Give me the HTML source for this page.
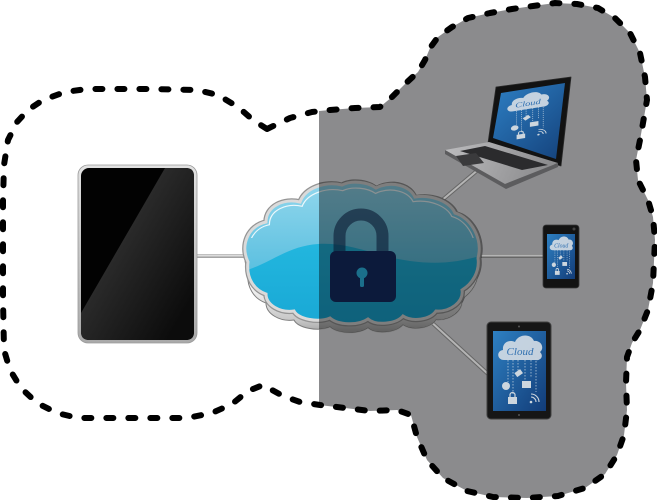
<!DOCTYPE html>
<html><head><meta charset="utf-8">
<style>html,body{margin:0;padding:0;background:#fff;}svg{display:block}</style>
</head>
<body>
<svg width="657" height="500" viewBox="0 0 657 500" xmlns="http://www.w3.org/2000/svg">
<defs>
 <linearGradient id="cloudTop" x1="0" y1="185" x2="0" y2="270" gradientUnits="userSpaceOnUse">
  <stop offset="0" stop-color="#90d6ec"/><stop offset="1" stop-color="#5cc0e0"/>
 </linearGradient>
 <linearGradient id="cloudBot" x1="0" y1="245" x2="0" y2="325" gradientUnits="userSpaceOnUse">
  <stop offset="0" stop-color="#22b6de"/><stop offset="1" stop-color="#19a8d5"/>
 </linearGradient>
 <linearGradient id="extr" x1="0" y1="280" x2="0" y2="333" gradientUnits="userSpaceOnUse">
  <stop offset="0" stop-color="#f2f2f2"/><stop offset="0.6" stop-color="#c6c6c6"/><stop offset="1" stop-color="#8a8a8a"/>
 </linearGradient>
 <linearGradient id="frame" x1="0" y1="165" x2="0" y2="343" gradientUnits="userSpaceOnUse">
  <stop offset="0" stop-color="#e2e2e2"/><stop offset="1" stop-color="#a9a9a9"/>
 </linearGradient>
 <linearGradient id="glare" x1="123" y1="240" x2="200" y2="285" gradientUnits="userSpaceOnUse">
  <stop offset="0" stop-color="#2a2a2a"/><stop offset="1" stop-color="#0c0c0c"/>
 </linearGradient>
 <linearGradient id="scr" x1="0" y1="0" x2="1" y2="1">
  <stop offset="0" stop-color="#2e80c2"/><stop offset="1" stop-color="#123c78"/>
 </linearGradient>
 <linearGradient id="lapScr" x1="495" y1="90" x2="560" y2="160" gradientUnits="userSpaceOnUse">
  <stop offset="0" stop-color="#2c7cc0"/><stop offset="1" stop-color="#15437d"/>
 </linearGradient>
 <linearGradient id="lapBase" x1="445" y1="142" x2="540" y2="185" gradientUnits="userSpaceOnUse">
  <stop offset="0" stop-color="#bdbdbf"/><stop offset="1" stop-color="#8c8c8e"/>
 </linearGradient>
 <clipPath id="cloudBody">
  <path d="M248,262 C240,245 248,226 266,222 C266,206 284,198 300,202 C305,188 325,181 342,185 C352,180 368,182 376,188 C392,180 410,186 415,197 C432,194 450,202 455,213 C472,218 483,240 478,258 C480,272 472,284 462,290 C464,302 450,312 436,311 C430,320 412,322 403,316 C396,324 376,326 368,319 C358,326 338,325 330,318 C318,323 298,319 294,311 C280,313 266,305 266,294 C254,290 246,278 248,262 Z"/>
 </clipPath>
 <clipPath id="cloudAll">
  <path d="M248,262 C240,245 248,226 266,222 C266,206 284,198 300,202 C305,188 325,181 342,185 C352,180 368,182 376,188 C392,180 410,186 415,197 C432,194 450,202 455,213 C472,218 483,240 478,258 C480,272 472,284 462,290 C464,302 450,312 436,311 C430,320 412,322 403,316 C396,324 376,326 368,319 C358,326 338,325 330,318 C318,323 298,319 294,311 C280,313 266,305 266,294 C254,290 246,278 248,262 Z" transform="translate(0,9)" stroke="#000" stroke-width="6"/>
  <path d="M248,262 C240,245 248,226 266,222 C266,206 284,198 300,202 C305,188 325,181 342,185 C352,180 368,182 376,188 C392,180 410,186 415,197 C432,194 450,202 455,213 C472,218 483,240 478,258 C480,272 472,284 462,290 C464,302 450,312 436,311 C430,320 412,322 403,316 C396,324 376,326 368,319 C358,326 338,325 330,318 C318,323 298,319 294,311 C280,313 266,305 266,294 C254,290 246,278 248,262 Z" transform="translate(362,252) scale(1.03,1.04) translate(-362,-252)"/>
 </clipPath>
 <clipPath id="topHalf"><rect x="230" y="170" width="260" height="68"/></clipPath>
</defs>

<!-- gray region -->
<polygon fill="#8b8b8d" points="319,111 330,110 355,108 380,107 392,97 405,84 418,72 425,60 430,48 438,37 452,27 468,18 490,13 512,9 533,6 555,3 577,4 598,8 615,18 630,33 640,53 645,77 647,100 643,123 640,140 636,160 638,180 648,200 653,217 655,240 653,283 648,310 640,330 632,343 627,357 626,383 627,410 624,435 617,455 605,474 585,488 558,496 527,498 493,497 467,491 443,478 427,460 417,437 411,415 397,410 370,411 345,408 319,405"/>

<!-- left connector -->
<line x1="196" y1="256" x2="250" y2="256" stroke="#a4a4a4" stroke-width="4"/>
<line x1="196" y1="255.5" x2="250" y2="255.5" stroke="#dcdcdc" stroke-width="2"/>

<!-- left black tablet -->
<rect x="78" y="165" width="119" height="178" rx="10" fill="url(#frame)" stroke="#9a9a9a" stroke-width="0.8"/>
<rect x="81" y="168" width="113" height="172" rx="8" fill="#020202"/>
<path d="M165,168 L186,168 Q194,168 194,176 L194,332 Q194,340 186,340 L89,340 Q81,340 81,332 L81,313 Z" fill="url(#glare)"/>

<!-- connectors in gray area -->
<g stroke-linecap="butt">
 <line x1="434" y1="207" x2="479" y2="169" stroke="#666" stroke-width="4"/>
 <line x1="434" y1="207" x2="479" y2="169" stroke="#b4b4b4" stroke-width="2"/>
 <line x1="474" y1="256" x2="544" y2="256" stroke="#666" stroke-width="4"/>
 <line x1="474" y1="255.5" x2="544" y2="255.5" stroke="#b4b4b4" stroke-width="2"/>
 <line x1="428" y1="319" x2="488" y2="374" stroke="#666" stroke-width="4"/>
 <line x1="428" y1="319" x2="488" y2="374" stroke="#b4b4b4" stroke-width="2"/>
</g>

<!-- cloud -->
<path d="M248,262 C240,245 248,226 266,222 C266,206 284,198 300,202 C305,188 325,181 342,185 C352,180 368,182 376,188 C392,180 410,186 415,197 C432,194 450,202 455,213 C472,218 483,240 478,258 C480,272 472,284 462,290 C464,302 450,312 436,311 C430,320 412,322 403,316 C396,324 376,326 368,319 C358,326 338,325 330,318 C318,323 298,319 294,311 C280,313 266,305 266,294 C254,290 246,278 248,262 Z" transform="translate(0,9)" fill="url(#extr)" stroke="#7e7e7e" stroke-width="1"/>
<path d="M248,262 C240,245 248,226 266,222 C266,206 284,198 300,202 C305,188 325,181 342,185 C352,180 368,182 376,188 C392,180 410,186 415,197 C432,194 450,202 455,213 C472,218 483,240 478,258 C480,272 472,284 462,290 C464,302 450,312 436,311 C430,320 412,322 403,316 C396,324 376,326 368,319 C358,326 338,325 330,318 C318,323 298,319 294,311 C280,313 266,305 266,294 C254,290 246,278 248,262 Z" fill="none" stroke="#949494" stroke-width="5.5"/>
<path d="M248,262 C240,245 248,226 266,222 C266,206 284,198 300,202 C305,188 325,181 342,185 C352,180 368,182 376,188 C392,180 410,186 415,197 C432,194 450,202 455,213 C472,218 483,240 478,258 C480,272 472,284 462,290 C464,302 450,312 436,311 C430,320 412,322 403,316 C396,324 376,326 368,319 C358,326 338,325 330,318 C318,323 298,319 294,311 C280,313 266,305 266,294 C254,290 246,278 248,262 Z" fill="url(#cloudTop)"/>
<path clip-path="url(#cloudBody)" d="M238,272 C265,268 285,246 318,244 C350,242 375,256 410,261 C440,265 460,262 487,254 L487,340 L238,340 Z" fill="url(#cloudBot)"/>
<g clip-path="url(#topHalf)">
<path d="M248,262 C240,245 248,226 266,222 C266,206 284,198 300,202 C305,188 325,181 342,185 C352,180 368,182 376,188 C392,180 410,186 415,197 C432,194 450,202 455,213 C472,218 483,240 478,258 C480,272 472,284 462,290 C464,302 450,312 436,311 C430,320 412,322 403,316 C396,324 376,326 368,319 C358,326 338,325 330,318 C318,323 298,319 294,311 C280,313 266,305 266,294 C254,290 246,278 248,262 Z" transform="translate(362,256) scale(0.965,0.92) translate(-362,-256)" fill="none" stroke="#ffffff" stroke-opacity="0.85" stroke-width="1.3"/>
</g>
<path d="M248,262 C240,245 248,226 266,222 C266,206 284,198 300,202 C305,188 325,181 342,185 C352,180 368,182 376,188 C392,180 410,186 415,197 C432,194 450,202 455,213 C472,218 483,240 478,258 C480,272 472,284 462,290 C464,302 450,312 436,311 C430,320 412,322 403,316 C396,324 376,326 368,319 C358,326 338,325 330,318 C318,323 298,319 294,311 C280,313 266,305 266,294 C254,290 246,278 248,262 Z" fill="none" stroke="#dadada" stroke-width="3"/>

<!-- shade over cloud in gray area -->
<rect x="319" y="170" width="180" height="170" fill="#000" fill-opacity="0.42" clip-path="url(#cloudAll)"/>

<!-- padlock -->
<path d="M339.5,253 V236 A21.5,21.5 0 0 1 382.5,236 V253" fill="none" stroke="#0a1932" stroke-opacity="0.6" stroke-width="12"/>
<rect x="330" y="251" width="66" height="51" rx="6" fill="#0c1a3b"/>
<circle cx="362" cy="273" r="5.5" fill="#1b6f8b"/>
<rect x="360" y="274" width="4" height="13" rx="1.5" fill="#1b6f8b"/>

<!-- laptop -->
<polygon points="496,87 571,77 561,166 488,143" fill="#121212" stroke="#2a2a2a" stroke-width="0.8" stroke-linejoin="round"/>
<polygon points="501,93 565,83 556,159 493,138" fill="url(#lapScr)"/>
<polygon points="445,150 489,142 558,163 505,184" fill="url(#lapBase)"/>
<polygon points="445,150 505,184 558,163 558,167 506,189 445,154" fill="#5c5c5e"/>
<polygon points="485,146 548,165 522,170 460,151" fill="#2b2b2d"/>
<polygon points="456,156 476,153 484,163 463,166" fill="#3a3a3c"/>
<g transform="matrix(0.95,-0.15,0,0.65,34,-47)">
 <path d="M504,360 C497,360 496,351 503,350 C502,343 509,339 515,342 C518,334 531,333 534,341 C541,340 545,348 540,352 C544,356 541,361 535,360 Z" fill="#d6dee6" fill-opacity="0.9"/>
 <text x="520" y="355" font-family="Liberation Serif, serif" font-style="italic" font-size="11" fill="#2f6fb0" text-anchor="middle">Cloud</text>
 <g stroke="#c8d6e2" stroke-width="0.7" stroke-dasharray="1.5 1.5">
  <line x1="508" y1="360" x2="508" y2="382"/><line x1="513" y1="360" x2="513" y2="394"/>
  <line x1="518" y1="360" x2="518" y2="371"/><line x1="525" y1="360" x2="525" y2="380"/>
  <line x1="531" y1="360" x2="531" y2="378"/><line x1="536" y1="358" x2="536" y2="392"/>
 </g>
 <g fill="#cdd6de">
  <circle cx="506" cy="386" r="4"/>
  <rect x="515" y="371" width="7" height="5" transform="rotate(-35 518 373)"/>
  <rect x="522" y="381" width="9" height="7"/>
  <rect x="508" y="397" width="9" height="7"/>
  <circle cx="531" cy="402" r="1.3"/>
 </g>
 <path d="M510,397 v-2 a2.5,2.5 0 0 1 5,0 v2" fill="none" stroke="#cdd6de" stroke-width="1.2"/>
 <path d="M531,397 a5,5 0 0 1 5,5 M531,394 a8,8 0 0 1 8,8" fill="none" stroke="#cdd6de" stroke-width="1.1"/>
</g>

<!-- phone -->
<rect x="543" y="225" width="36" height="63" rx="3" fill="#131313" stroke="#3a3a3a" stroke-width="0.8"/>
<rect x="547" y="234" width="28" height="45" fill="url(#scr)"/>
<circle cx="574" cy="229" r="1.5" fill="#444"/>
<g transform="translate(547,234) scale(0.528,0.56) translate(-493,-331)">
 <path d="M504,360 C497,360 496,351 503,350 C502,343 509,339 515,342 C518,334 531,333 534,341 C541,340 545,348 540,352 C544,356 541,361 535,360 Z" fill="#d6dee6" fill-opacity="0.9"/>
 <text x="520" y="355" font-family="Liberation Serif, serif" font-style="italic" font-size="11" fill="#2f6fb0" text-anchor="middle">Cloud</text>
 <g stroke="#c8d6e2" stroke-width="1" stroke-dasharray="2 2">
  <line x1="508" y1="360" x2="508" y2="382"/><line x1="513" y1="360" x2="513" y2="394"/>
  <line x1="518" y1="360" x2="518" y2="371"/><line x1="525" y1="360" x2="525" y2="380"/>
  <line x1="531" y1="360" x2="531" y2="378"/><line x1="536" y1="358" x2="536" y2="392"/>
 </g>
 <g fill="#cdd6de">
  <circle cx="506" cy="386" r="4"/>
  <rect x="515" y="371" width="7" height="5" transform="rotate(-35 518 373)"/>
  <rect x="522" y="381" width="9" height="7"/>
  <rect x="508" y="397" width="9" height="7"/>
  <circle cx="531" cy="402" r="1.5"/>
 </g>
 <path d="M510,397 v-2 a2.5,2.5 0 0 1 5,0 v2" fill="none" stroke="#cdd6de" stroke-width="1.5"/>
 <path d="M531,397 a5,5 0 0 1 5,5 M531,394 a8,8 0 0 1 8,8" fill="none" stroke="#cdd6de" stroke-width="1.5"/>
</g>

<!-- tablet -->
<rect x="487" y="322" width="64" height="97" rx="4" fill="#161616" stroke="#404040" stroke-width="1"/>
<rect x="493" y="331" width="53" height="80" fill="url(#scr)"/>
<circle cx="519" cy="326.5" r="1" fill="#555"/>
<circle cx="519" cy="415" r="1" fill="#555"/>
<g>
 <path d="M504,360 C497,360 496,351 503,350 C502,343 509,339 515,342 C518,334 531,333 534,341 C541,340 545,348 540,352 C544,356 541,361 535,360 Z" fill="#d6dee6" fill-opacity="0.9"/>
 <text x="520" y="355" font-family="Liberation Serif, serif" font-style="italic" font-size="11" fill="#2f6fb0" text-anchor="middle">Cloud</text>
 <g stroke="#c8d6e2" stroke-width="0.7" stroke-dasharray="1.5 1.5">
  <line x1="508" y1="360" x2="508" y2="382"/><line x1="513" y1="360" x2="513" y2="394"/>
  <line x1="518" y1="360" x2="518" y2="371"/><line x1="525" y1="360" x2="525" y2="380"/>
  <line x1="531" y1="360" x2="531" y2="378"/><line x1="536" y1="358" x2="536" y2="392"/>
 </g>
 <g fill="#cdd6de">
  <circle cx="506" cy="386" r="4"/>
  <rect x="515" y="371" width="7" height="5" transform="rotate(-35 518 373)"/>
  <rect x="522" y="381" width="9" height="7"/>
  <rect x="508" y="397" width="9" height="7"/>
  <circle cx="531" cy="402" r="1.3"/>
 </g>
 <path d="M510,397 v-2 a2.5,2.5 0 0 1 5,0 v2" fill="none" stroke="#cdd6de" stroke-width="1.2"/>
 <path d="M531,397 a5,5 0 0 1 5,5 M531,394 a8,8 0 0 1 8,8" fill="none" stroke="#cdd6de" stroke-width="1.1"/>
</g>

<!-- dashed outline -->
<polygon fill="none" stroke="#000" stroke-width="6" stroke-dasharray="7 15" stroke-linecap="round" stroke-linejoin="round"
 points="267,129 290,118 312,112 330,110 355,108 380,107 392,97 405,84 418,72 425,60 430,48 438,37 452,27 468,18 490,13 512,9 533,6 555,3 577,4 598,8 615,18 630,33 640,53 645,77 647,100 643,123 640,140 636,160 638,180 648,200 653,217 655,240 653,283 648,310 640,330 632,343 627,357 626,383 627,410 624,435 617,455 605,474 585,488 558,496 527,498 493,497 467,491 443,478 427,460 417,437 411,415 397,410 370,411 345,408 320,405 300,402 283,396 263,385 248,391 232,404 212,413 187,418 130,418 78,418 57,413 37,403 21,388 10,370 4,350 3,300 3,200 4,165 8,140 17,122 28,110 43,100 65,92 87,89 150,89 197,90 218,95 238,107 253,120"/>
</svg>
</body></html>
